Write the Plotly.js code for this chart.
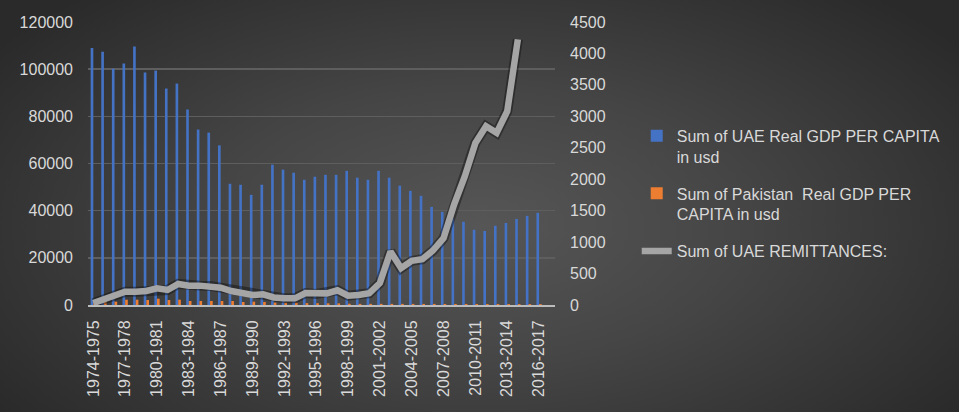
<!DOCTYPE html>
<html>
<head>
<meta charset="utf-8">
<script src="https://cdn.plot.ly/plotly-3.0.1.min.js"></script>
<style>
html, body { margin:0; padding:0; width:959px; height:412px; overflow:hidden; }
body { background: radial-gradient(ellipse 62% 75% at 50% 55%, #565656 0%, #454545 45%, #2a2a2a 100%); }
#chart { width:959px; height:412px; }
</style>
</head>
<body>
<div id="chart"></div>
<script>
// Categories (fiscal years) – the pivot chart also carries an empty "(blank)" slot at the end
const categories = [
  "1974-1975","1975-1976","1976-1977","1977-1978","1978-1979","1979-1980","1980-1981",
  "1981-1982","1982-1983","1983-1984","1984-1985","1985-1986","1986-1987","1987-1988",
  "1988-1989","1989-1990","1990-1991","1991-1992","1992-1993","1993-1994","1994-1995",
  "1995-1996","1996-1997","1997-1998","1998-1999","1999-2000","2000-2001","2001-2002",
  "2002-2003","2003-2004","2004-2005","2005-2006","2006-2007","2007-2008","2008-2009",
  "2009-2010","2010-2011","2011-2012","2012-2013","2013-2014","2014-2015","2015-2016",
  "2016-2017","(blank)"
];

// Sum of UAE Real GDP PER CAPITA in usd (left axis)
const uaeGdp = [
  109000,107400,100200,102400,109600,98600,99400,
  91800,93900,82900,74400,73100,67700,51400,
  51000,46700,51000,59500,57400,56100,53100,
  54400,55200,55200,56900,54000,53100,56900,
  54000,50600,48400,46300,41600,39500,36500,
  35300,31900,31400,33600,34800,36500,37800,
  39100,null
];

// Sum of Pakistan Real GDP PER CAPITA in usd (left axis)
const pakGdp = [
  2100,1800,1400,2250,2250,2120,2680,
  2120,2250,1700,1700,1700,1700,1700,
  1270,1410,1270,990,990,990,800,
  750,700,700,550,500,500,500,
  480,480,470,460,450,440,430,
  420,420,410,410,400,400,400,
  400,null
];

// Sum of UAE REMITTANCES (right axis)
const uaeRemit = [
  30,85,138,212,212,223,266,
  239,335,308,308,303,276,223,
  186,159,170,120,106,106,191,
  175,185,234,149,159,186,350,
  850,585,701,728,866,1063,1600,
  2045,2577,2842,2737,3081,4224,null,
  null,null
];

const leftTicks = [0,20000,40000,60000,80000,100000,120000];
const rightTicks = [0,500,1000,1500,2000,2500,3000,3500,4000,4500];
const shownCats = categories.filter((c, i) => i % 3 === 0 && c !== "(blank)");

const txt = '#d9d9d9';
const fnt = { family: 'Liberation Sans, Arial, sans-serif', size: 16, color: txt };

const traces = [
  {
    type: 'bar', x: categories, y: uaeGdp,
    name: 'Sum of UAE Real GDP PER CAPITA<br>in usd',
    marker: { color: '#4472c4' }, legendgroup: 'a'
  },
  {
    type: 'bar', x: categories, y: pakGdp,
    name: 'Sum of Pakistan  Real GDP PER<br>CAPITA in usd',
    marker: { color: '#ed7d31' }, legendgroup: 'b'
  },
  {
    type: 'scatter', mode: 'lines', x: categories, y: uaeRemit, yaxis: 'y2',
    line: { color: 'rgba(15,15,15,0.45)', width: 10 },
    showlegend: false, hoverinfo: 'skip', connectgaps: false
  },
  {
    type: 'scatter', mode: 'lines', x: categories, y: uaeRemit, yaxis: 'y2',
    name: 'Sum of UAE REMITTANCES:',
    line: { color: '#a5a5a5', width: 6.5 }, legendgroup: 'c', connectgaps: false
  }
];

const layout = {
  width: 959, height: 412,
  margin: { l: 88, r: 404, t: 22, b: 107, pad: 0 },
  paper_bgcolor: 'rgba(0,0,0,0)',
  plot_bgcolor: 'rgba(0,0,0,0)',
  font: fnt,
  barmode: 'group', bargap: 0.5, bargroupgap: 0,
  showlegend: true,
  legend: {
    x: 1.175, xanchor: 'left', y: 0.658, yanchor: 'top',
    font: fnt, bgcolor: 'rgba(0,0,0,0)', valign: 'top',
    traceorder: 'grouped', tracegroupgap: 13
  },
  xaxis: {
    type: 'category', categoryorder: 'array', categoryarray: categories,
    tickmode: 'array', tickvals: shownCats, ticktext: shownCats,
    tickangle: -90, tickfont: fnt, ticks: '',
    showgrid: false, zeroline: false,
    showline: true, linecolor: '#bcbcbc', linewidth: 2,
    ticklabelstandoff: 7
  },
  yaxis: {
    range: [0, 120000], tickmode: 'array', tickvals: leftTicks, tickformat: 'd',
    tickfont: fnt, ticks: '', showline: false, zeroline: false,
    gridcolor: '#5e5e5e', gridwidth: 1.5,
    ticklabelstandoff: 14
  },
  yaxis2: {
    range: [0, 4500], overlaying: 'y', side: 'right',
    tickmode: 'array', tickvals: rightTicks, tickformat: 'd',
    tickfont: fnt, ticks: '', showline: false, zeroline: false, showgrid: false,
    ticklabelstandoff: 14
  }
};

Plotly.newPlot('chart', traces, layout, { displayModeBar: false, staticPlot: true });
</script>
</body>
</html>
